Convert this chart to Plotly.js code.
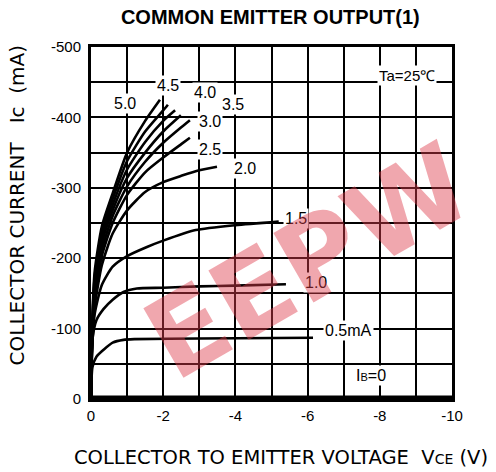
<!DOCTYPE html>
<html><head><meta charset="utf-8">
<script src="https://cdn.plot.ly/plotly-3.0.1.min.js"></script>
<style>html,body{margin:0;padding:0;background:#fff}#chart{width:496px;height:472px}</style>
</head><body><div id="chart"></div>
<script>
// Base current series (IB, mA): collector-emitter voltage (V) and collector current (mA)
const ibLabels = ["5.0","4.5","4.0","3.5","3.0","2.5","2.0","1.5","1.0","0.5mA","IB=0"];
const vce_50 = [0,-0.03,-0.1,-0.3,-0.6,-1.0,-1.5,-1.91];
const ic_50  = [0,-100,-180,-245,-292,-350,-395,-425];
const vce_45 = [0,-0.03,-0.1,-0.3,-0.6,-1.0,-1.5,-2.0,-2.13];
const ic_45  = [0,-95,-172,-237,-284,-338,-380,-410,-418];
const vce_40 = [0,-0.03,-0.1,-0.3,-0.6,-1.0,-1.5,-2.0,-2.33];
const ic_40  = [0,-90,-165,-229,-276,-326,-365,-395,-410];
const vce_35 = [0,-0.03,-0.1,-0.3,-0.6,-1.0,-1.5,-2.0,-2.49];
const ic_35  = [0,-85,-158,-221,-268,-314,-350,-380,-403];
const vce_30 = [0,-0.03,-0.1,-0.3,-0.6,-1.0,-1.5,-2.0,-2.5,-2.74];
const ic_30  = [0,-80,-150,-212,-260,-302,-337,-364,-386,-396];
const vce_25 = [0,-0.03,-0.1,-0.3,-0.6,-1.0,-1.5,-2.0,-2.5,-2.74];
const ic_25  = [0,-75,-142,-203,-250,-290,-322,-343,-362,-371];
const vce_20 = [0,-0.03,-0.1,-0.3,-0.6,-1.0,-1.5,-2.0,-2.5,-3.0,-3.49];
const ic_20  = [0,-70,-130,-190,-235,-268,-294,-308,-317,-325,-330];
const vce_15 = [0,-0.03,-0.1,-0.3,-0.6,-1.0,-1.55,-2.0,-2.9,-4.0,-5.2];
const ic_15  = [0,-70,-120,-162,-188,-203,-216,-225,-240,-247,-252];
const vce_10 = [0,-0.04,-0.15,-0.35,-0.6,-0.9,-1.27,-2.0,-3.0,-4.0,-5.4];
const ic_10  = [0,-85,-112,-128,-141,-152,-157,-158,-160,-161,-163];
const vce_05 = [0,-0.04,-0.15,-0.35,-0.6,-0.9,-1.2,-3.0,-6.15];
const ic_05  = [0,-45,-60,-70,-80,-84,-85,-86,-87];
const vce_00 = [0,-10];
const ic_00  = [-2,-2];

const xTickVals = [0,-1,-2,-3,-4,-5,-6,-7,-8,-9,-10];
const xTickText = ["0","","-2","","-4","","-6","","-8","","-10"];
const yTickVals = [0,-50,-100,-150,-200,-250,-300,-350,-400,-450,-500];
const yTickText = ["0","","-100","","-200","","-300","","-400","","-500"];

// label anchor positions (data coordinates)
const labX = [-0.94,-2.13,-3.16,-3.93,-3.3,-3.3,-4.27,-5.68,-6.23,-7.12,-7.75];
const labY = [-420,-445,-435,-419,-394,-354,-327,-257,-165,-98,-33];

const seriesX = [vce_50,vce_45,vce_40,vce_35,vce_30,vce_25,vce_20,vce_15,vce_10,vce_05,vce_00];
const seriesY = [ic_50,ic_45,ic_40,ic_35,ic_30,ic_25,ic_20,ic_15,ic_10,ic_05,ic_00];

const traces = seriesX.map((xs,i)=>({
  x: xs, y: seriesY[i], type:'scatter', mode:'lines',
  line:{color:'#000', width: i===10?4:2.6, shape:'spline', smoothing:0.6},
  hoverinfo:'skip', showlegend:false, name: ibLabels[i]
}));

const F = 'Liberation Sans, Arial, sans-serif';
const D = 'DejaVu Sans, Arial, sans-serif';
const annotations = ibLabels.map((t,i)=>({
  x: labX[i], y: labY[i], xref:'x', yref:'y', showarrow:false,
  text: t==='IB=0' ? 'I<span style="font-size:11px">B</span>=0' : t,
  font:{family:F, size:16, color:'#000'}, bgcolor:'#fff', borderpad:1
}));
annotations.push({x:-8.75, y:-460, xref:'x', yref:'y', showarrow:false, text:'Ta=25℃',
  font:{family:F, size:15, color:'#000'}, bgcolor:'#fff', borderpad:1});
annotations.push({x:0.6, y:0.39, xref:'paper', yref:'paper', showarrow:false, text:'<b>EEPW</b>',
  textangle:-30, font:{family:'DejaVu Sans, Arial', size:110, color:'rgba(222,60,75,0.45)'}});
annotations.push({x:0.525, y:-0.165, xref:'paper', yref:'paper', showarrow:false,
  text:'COLLECTOR TO EMITTER VOLTAGE  V<span style="font-size:14px">CE</span> (V)',
  font:{family:D, size:19.5, color:'#000'}, xanchor:'center', yanchor:'middle'});
annotations.push({x:-0.205, y:0.55, xref:'paper', yref:'paper', showarrow:false,
  text:'COLLECTOR CURRENT   Ic  (mA)', textangle:-90, xanchor:'center', yanchor:'middle',
  font:{family:D, size:20, color:'#000'}});

const axisBase = {showline:true, mirror:true, linecolor:'#000', linewidth:3,
  showgrid:true, gridcolor:'#000', gridwidth:2, zeroline:false, ticks:'',
  tickfont:{family:F, size:15, color:'#000'}, fixedrange:true, tickmode:'array'};

const layout = {
  width:496, height:472, margin:{l:91, r:44, t:47, b:73},
  paper_bgcolor:'#fff', plot_bgcolor:'#fff',
  title:{text:'<b>COMMON EMITTER OUTPUT(1)</b>', x:0.545, xanchor:'center', y:0.965, yanchor:'middle',
    font:{family:F, size:20, color:'#000'}},
  xaxis: Object.assign({}, axisBase, {range:[0,-10], tickvals:xTickVals, ticktext:xTickText, ticklabelstandoff:1}),
  yaxis: Object.assign({}, axisBase, {range:[0,-500], tickvals:yTickVals, ticktext:yTickText, ticklabelstandoff:4}),
  annotations: annotations
};
Plotly.newPlot('chart', traces, layout, {displayModeBar:false, staticPlot:true});
</script></body></html>
